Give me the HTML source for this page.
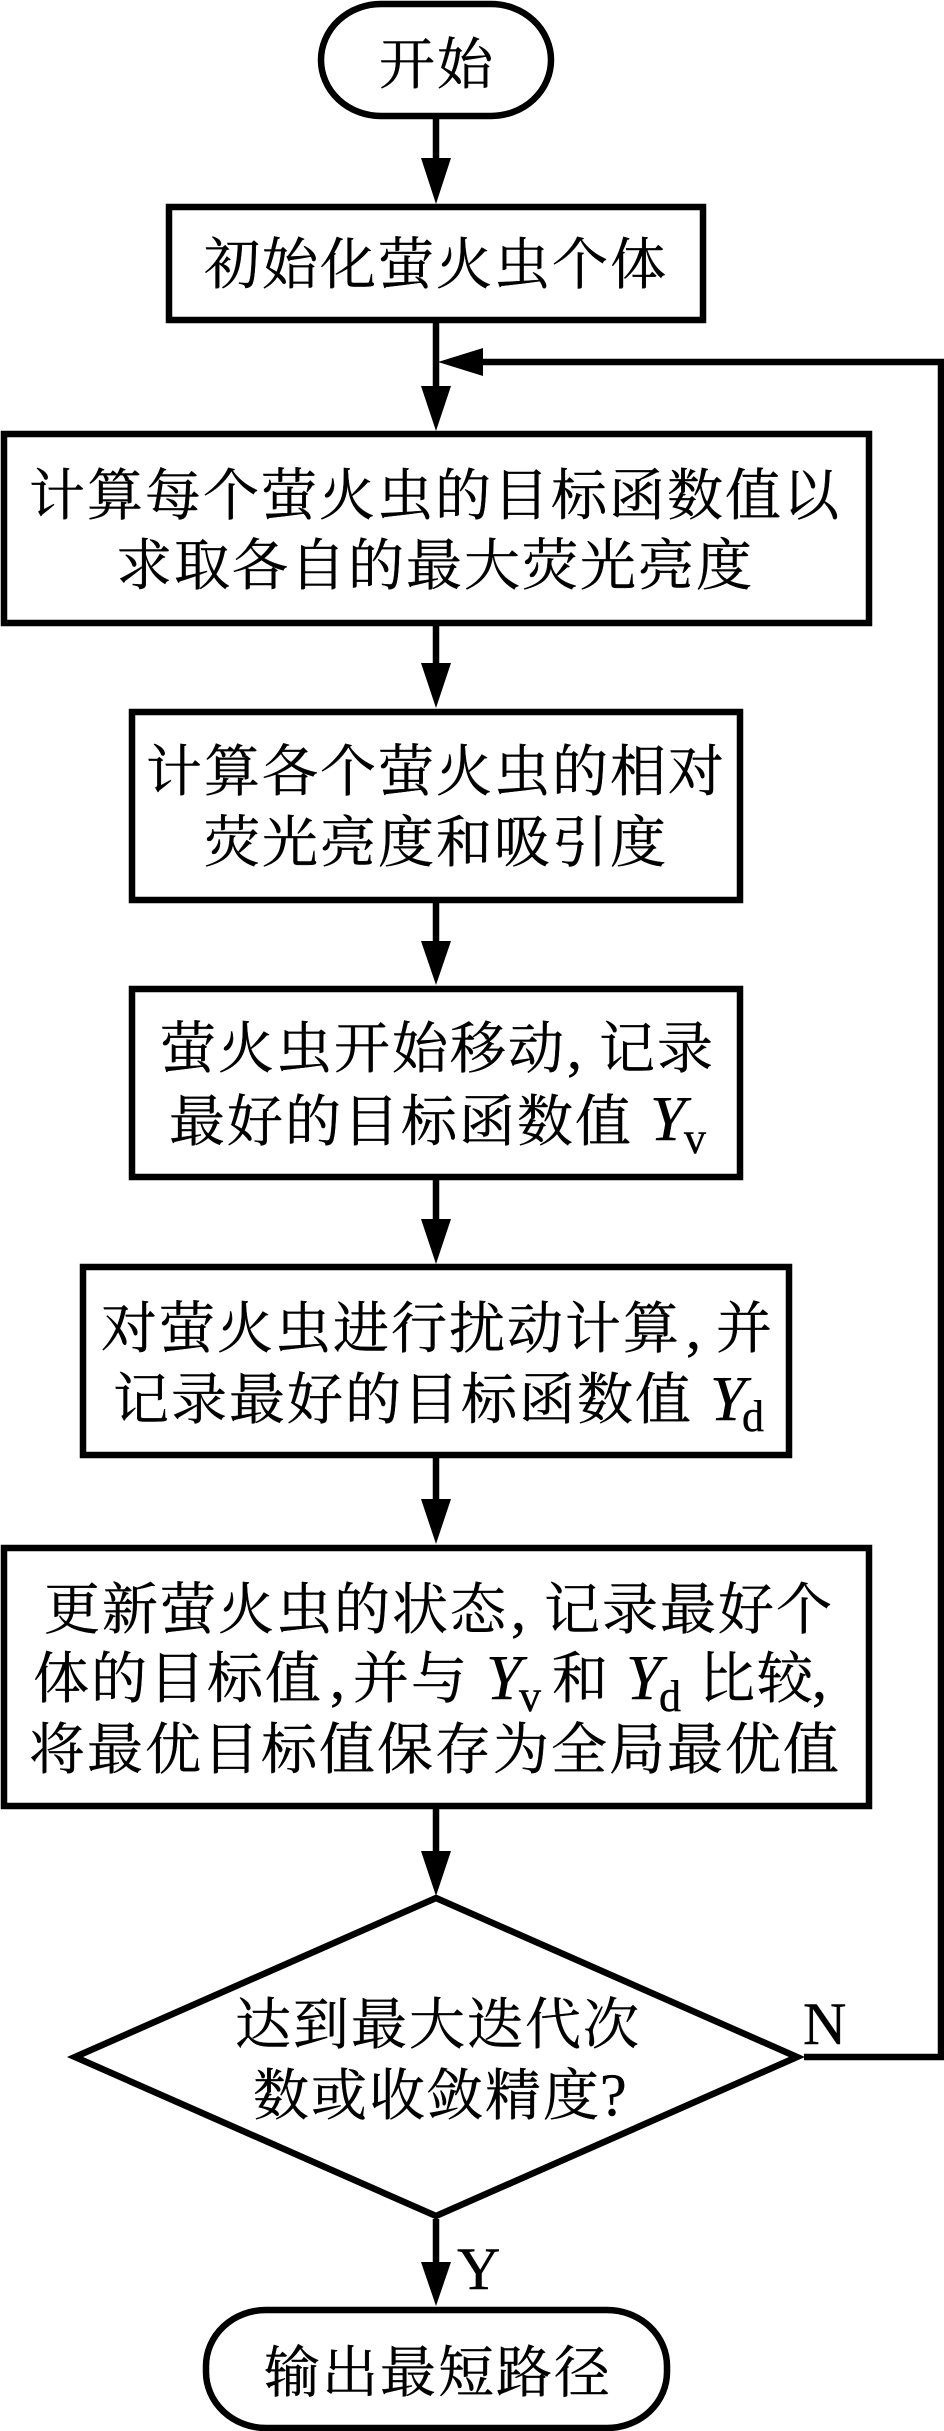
<!DOCTYPE html>
<html lang="zh">
<head>
<meta charset="utf-8">
<title>流程图</title>
<style>
html,body{margin:0;padding:0;background:#fff}
svg{display:block}
text{font-family:"Noto Serif CJK SC","Liberation Serif",serif;font-size:56px;letter-spacing:2px;fill:#000;stroke:#000;stroke-width:.4px}
.l{font-family:"Liberation Serif",serif;letter-spacing:0}
.y{font-family:"Liberation Serif",serif;font-style:italic;font-size:64px;letter-spacing:0}
.s{font-family:"Liberation Serif",serif;font-size:44px;letter-spacing:0}
.c{font-family:"Liberation Serif",serif;font-size:60px;letter-spacing:0}
</style>
</head>
<body>
<svg xmlns="http://www.w3.org/2000/svg" width="944" height="2431" viewBox="0 0 944 2431">
<rect width="944" height="2431" fill="#fff"/>
<g fill="none" stroke="#000" stroke-width="6.5">
<rect x="321" y="4" width="230" height="112" rx="60" ry="56"/>
<rect x="169" y="207" width="534" height="113"/>
<rect x="4" y="434" width="865" height="189"/>
<rect x="132" y="712" width="608" height="188"/>
<rect x="132" y="989" width="608" height="188"/>
<rect x="83" y="1267" width="706" height="188"/>
<rect x="4" y="1548" width="865" height="258"/>
<polygon points="436,1898 797,2057 436,2216 75,2057"/>
<rect x="206" y="2310" width="461" height="118" rx="60" ry="56"/>
<path d="M436 118V165M436 323V395M436 626V672M436 903V950M436 1179V1228M436 1458V1508M436 1809V1860M436 2219V2270"/>
<path d="M804 2057H941V362H475"/>
</g>
<g fill="#000">
<polygon points="421,158 451,158 436,204"/>
<polygon points="421,386 451,386 436,431"/>
<polygon points="421,663 451,663 436,708"/>
<polygon points="421,941 451,941 436,985"/>
<polygon points="421,1219 451,1219 436,1264"/>
<polygon points="421,1499 451,1499 436,1544"/>
<polygon points="421,1851 451,1851 436,1896"/>
<polygon points="421,2262 451,2262 436,2306"/>
<polygon points="483,348 483,376 438,362"/>
</g>

<text x="379" y="84">开始</text>
<text x="204" y="284">初始化萤火虫个体</text>
<text x="29" y="515">计算每个萤火虫的目标函数值以</text>
<text x="116" y="585">求取各自的最大荧光亮度</text>
<text x="146" y="791">计算各个萤火虫的相对</text>
<text x="204" y="862">荧光亮度和吸引度</text>
<text x="160" y="1068">萤火虫开始移动<tspan class="c" x="567">,</tspan><tspan x="599">记录</tspan></text>
<text x="169" y="1141">最好的目标函数值</text>
<text class="y" x="650" y="1140">Y</text>
<text class="s" x="684" y="1153">v</text>
<text x="101" y="1348">对萤火虫进行扰动计算<tspan class="c" x="686">,</tspan><tspan x="716">并</tspan></text>
<text x="113" y="1419">记录最好的目标函数值</text>
<text class="y" x="710" y="1420">Y</text>
<text class="s" x="742" y="1431">d</text>
<text x="44" y="1629">更新萤火虫的状态<tspan class="c" x="511">,</tspan><tspan x="544">记录最好个</tspan></text>
<text x="33" y="1698">体的目标值<tspan class="c" x="330">,</tspan><tspan x="353">并与</tspan></text>
<text class="y" x="486" y="1699">Y</text>
<text class="s" x="519" y="1711">v</text>
<text x="552" y="1698">和</text>
<text class="y" x="626" y="1699">Y</text>
<text class="s" x="659" y="1711">d</text>
<text x="699" y="1698">比较<tspan class="c" x="812">,</tspan></text>
<text x="29" y="1769">将最优目标值保存为全局最优值</text>
<text x="235" y="2044">达到最大迭代次</text>
<text x="253" y="2115">数或收敛精度<tspan class="c" x="600">?</tspan></text>
<text class="c" x="803" y="2044">N</text>
<text class="c" x="457" y="2289">Y</text>
<text x="264" y="2392">输出最短路径</text>
</svg>
</body>
</html>
